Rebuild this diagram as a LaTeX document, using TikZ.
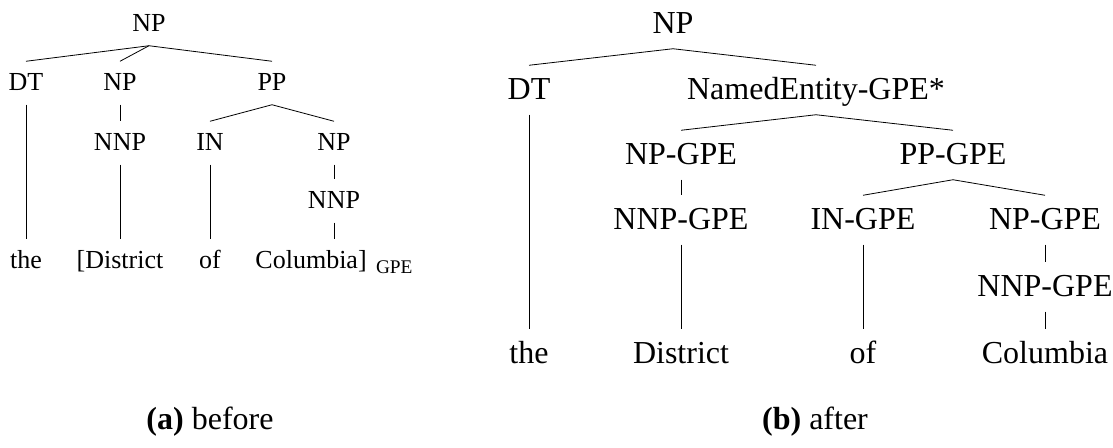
\documentclass[tikz,border=0pt]{standalone}
\usepackage{fontspec}
\setmainfont{Liberation Serif}
\begin{document}
\begin{tikzpicture}[x=0.75pt,y=-0.75pt,line width=0.6pt,
    lab/.style={font=\fontsize{19.5}{22}\selectfont,text height=13pt,text depth=2pt,inner xsep=0pt,inner ysep=8.5pt},
    blab/.style={font=\fontsize{24}{28}\selectfont,text height=16pt,text depth=2.5pt,inner xsep=0pt,inner ysep=9pt}]
    \useasboundingbox (0,0) rectangle (1113,447);
    % (a) before
    \node[lab] (np) at (149,24) {NP};
    \node[lab] (dt) at (26,83) {DT};
    \node[lab] (np1) at (120,83) {NP};
    \node[lab] (pp) at (272,83) {PP};
    \node[lab] (nnp1) at (120,143) {NNP};
    \node[lab] (in) at (210,143) {IN};
    \node[lab] (np2) at (334,143) {NP};
    \node[lab] (nnp2) at (334,201) {NNP};
    \node[lab] (the) at (26,261) {the};
    \node[lab] (district) at (120,261) {[District};
    \node[lab] (of) at (210,261) {of};
    \node[lab] (columbia) at (334,261) {Columbia]\hspace{7pt}\raisebox{-4pt}{\fontsize{14.5}{16}\selectfont GPE}};
    \draw (np.south) -- (dt.north);
    \draw (np.south) -- (np1.north);
    \draw (np.south) -- (pp.north);
    \draw (pp.south) -- (in.north);
    \draw (pp.south) -- (np2.north);
    \draw (dt) -- (the);
    \draw (np1) -- (nnp1);
    \draw (nnp1) -- (district);
    \draw (in) -- (of);
    \draw (np2) -- (nnp2);
    \draw (nnp2.south) -- (nnp2.south|-columbia.north);
    % (b) after
    \node[blab] (bnp) at (673,24) {NP};
    \node[blab] (bdt) at (529,90) {DT};
    \node[blab] (bne) at (816,90) {NamedEntity-GPE*};
    \node[blab] (bnpg) at (681,155) {NP-GPE};
    \node[blab] (bppg) at (953,155) {PP-GPE};
    \node[blab] (bnnpg) at (681,220) {NNP-GPE};
    \node[blab] (bing) at (863,220) {IN-GPE};
    \node[blab] (bnpg2) at (1045,220) {NP-GPE};
    \node[blab] (bnnpg2) at (1045,287) {NNP-GPE};
    \node[blab] (bthe) at (529,354) {the};
    \node[blab] (bdistrict) at (681,354) {District};
    \node[blab] (bof) at (863,354) {of};
    \node[blab] (bcolumbia) at (1045,354) {Columbia};
    \draw (bnp.south) -- (bdt.north);
    \draw (bnp.south) -- (bne.north);
    \draw (bne.south) -- (bnpg.north);
    \draw (bne.south) -- (bppg.north);
    \draw (bppg.south) -- (bing.north);
    \draw (bppg.south) -- (bnpg2.north);
    \draw (bdt) -- (bthe);
    \draw (bnpg) -- (bnnpg);
    \draw (bnnpg) -- (bdistrict);
    \draw (bing) -- (bof);
    \draw (bnpg2) -- (bnnpg2);
    \draw (bnnpg2) -- (bcolumbia);
    % captions
    \node[blab] (capa) at (210,420) {\textbf{(a)} before};
    \node[blab] (capb) at (815,420) {\textbf{(b)} after};
\end{tikzpicture}
\end{document}
